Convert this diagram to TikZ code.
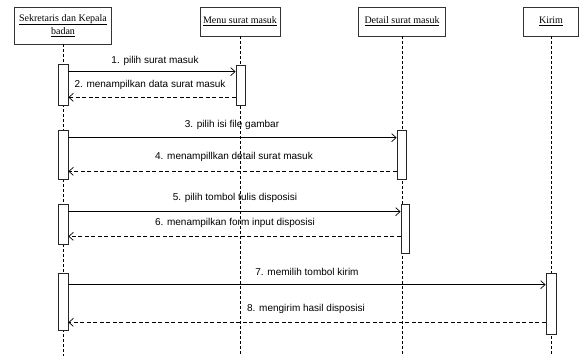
\documentclass[tikz,border=0pt]{standalone}
\usepackage{fontspec}
\setmainfont{Liberation Serif}
\newfontfamily\msgfont{Liberation Sans}
\usetikzlibrary{arrows.meta}
\begin{document}
\begin{tikzpicture}[x=1pt,y=-1pt,
  header/.style={draw=black!80,line width=0.7pt,fill=white,inner sep=1pt,
    font=\fontsize{10}{13.5}\selectfont,align=center,minimum height=29pt},
  activation/.style={draw=black!85,line width=0.7pt,fill=white,minimum width=10pt,inner sep=0pt},
  lifeline/.style={black,line width=0.6pt,dash pattern=on 3pt off 2pt},
  callmsg/.style={black,line width=0.7pt,-{Straight Barb[length=4.5pt,width=8pt]}},
  replymsg/.style={black,line width=0.7pt,dash pattern=on 4pt off 2.5pt,-{Straight Barb[length=4.5pt,width=8pt]}},
  msglabel/.style={font=\msgfont\fontsize{10}{11.5}\selectfont,inner sep=0pt}]
\useasboundingbox (0,0) rectangle (579,356);
\coordinate (bottom) at (0,357);

% participants
\node[header,minimum width=97pt,minimum height=37pt] (h1) at (63,25.5)
  {\underline{Sekretaris dan Kepala}\\\underline{badan}};
\node[header,minimum width=80pt] (h2) at (240,21.5) {\underline{Menu surat masuk}};
\node[header,minimum width=87pt] (h3) at (402,21.5) {\underline{Detail surat masuk}};
\node[header,minimum width=55pt] (h4) at (551,21.5) {\underline{Kirim}};

% lifelines
\foreach \p in {h1,h2,h3,h4}
  \draw[lifeline] (\p.south) -- (\p.south |- bottom);

% activation bars
\node[activation,minimum height=41pt] (a1) at (63,84.5) {};
\node[activation,minimum height=40pt,minimum width=9pt] (a2) at (240.5,85) {};
\node[activation,minimum height=49pt] (a3) at (63,154.5) {};
\node[activation,minimum height=49pt,minimum width=9pt] (a4) at (401.5,154.5) {};
\node[activation,minimum height=40pt] (a5) at (63,224) {};
\node[activation,minimum height=49pt,minimum width=8pt] (a6) at (405,228.5) {};
\node[activation,minimum height=57pt] (a7) at (63,301.5) {};
\node[activation,minimum height=61pt] (a8) at (551,303.5) {};

% messages
\draw[callmsg] ([yshift=-8pt]a1.north east) -- ([yshift=-7pt]a2.north west);
\draw[replymsg] ([yshift=8pt]a2.south west) -- ([yshift=8pt]a1.south east);
\draw[callmsg] ([yshift=-8pt]a3.north east) -- ([yshift=-8pt]a4.north west);
\draw[replymsg] ([yshift=8pt]a4.south west) -- ([yshift=8pt]a3.south east);
\draw[callmsg] ([yshift=-8pt]a5.north east) -- ([yshift=-8pt]a6.north west);
\draw[replymsg] ([yshift=17pt]a6.south west) -- ([yshift=8pt]a5.south east);
\draw[callmsg] ([yshift=-12pt]a7.north east) -- ([yshift=-12pt]a8.north west);
\draw[replymsg] ([yshift=12pt]a8.south west) -- ([yshift=8pt]a7.south east);

% message labels
\node[msglabel] (l1) at (155,61) {1. pilih surat masuk};
\node[msglabel] (l2) at (150,85) {2. menampilkan data surat masuk};
\node[msglabel] (l3) at (232,125) {3. pilih isi file gambar};
\node[msglabel] (l4) at (234,157) {4. menampillkan detail surat masuk};
\node[msglabel] (l5) at (235,198) {5. pilih tombol tulis disposisi};
\node[msglabel] (l6) at (235,223) {6. menampilkan form input disposisi};
\node[msglabel] (l7) at (307,272) {7. memilih tombol kirim};
\node[msglabel] (l8) at (306,309) {8. mengirim hasil disposisi};
\end{tikzpicture}
\end{document}
